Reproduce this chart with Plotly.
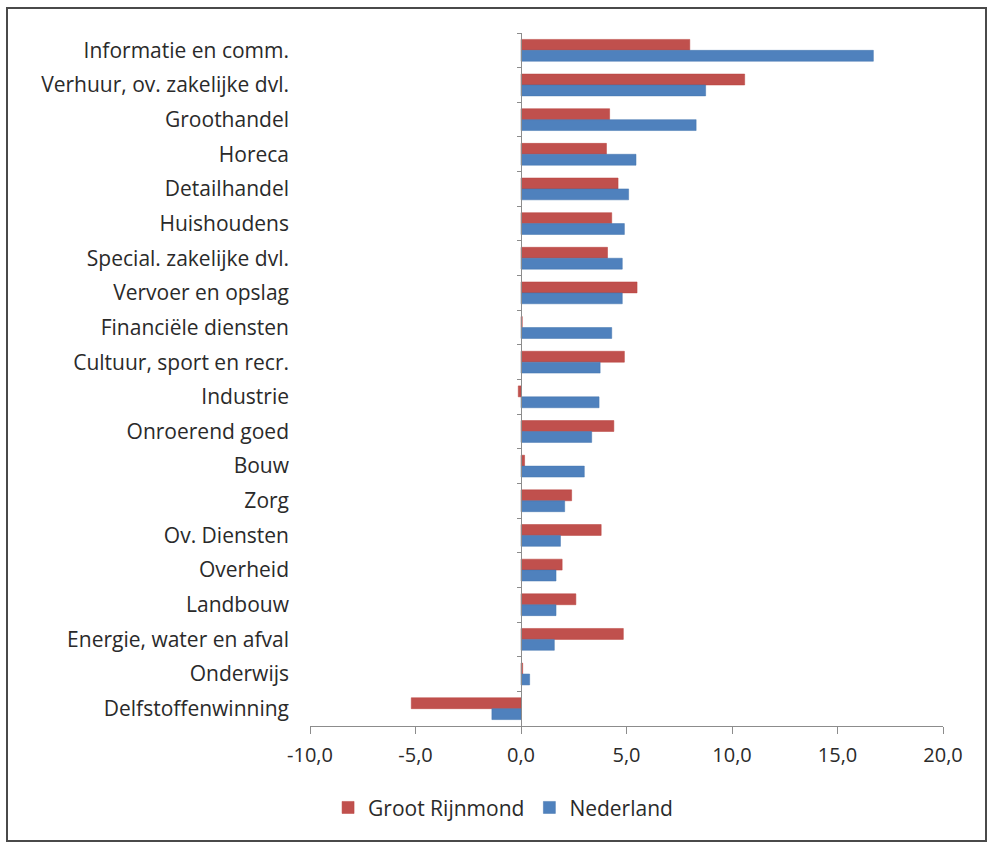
import plotly.graph_objects as go

categories = ["Informatie en comm.", "Verhuur, ov. zakelijke dvl.", "Groothandel", "Horeca",
              "Detailhandel", "Huishoudens", "Special. zakelijke dvl.", "Vervoer en opslag",
              "Financiële diensten", "Cultuur, sport en recr.", "Industrie", "Onroerend goed",
              "Bouw", "Zorg", "Ov. Diensten", "Overheid", "Landbouw", "Energie, water en afval",
              "Onderwijs", "Delfstoffenwinning"]
groot_rijnmond = [8.0, 10.6, 4.2, 4.05, 4.6, 4.3, 4.1, 5.5, 0.06, 4.9, -0.13, 4.4,
                  0.17, 2.4, 3.8, 1.95, 2.6, 4.85, 0.08, -5.2]
nederland = [16.7, 8.75, 8.3, 5.45, 5.1, 4.9, 4.8, 4.8, 4.3, 3.75, 3.7, 3.35,
             3.0, 2.07, 1.87, 1.66, 1.66, 1.58, 0.41, -1.38]
x_ticks = [-10, -5, 0, 5, 10, 15, 20]
x_tick_labels = ["-10,0", "-5,0", "0,0", "5,0", "10,0", "15,0", "20,0"]

FONT = "Open Sans"
TXT = "#2A2A2A"
fig = go.Figure()
fig.add_trace(go.Bar(y=categories, x=groot_rijnmond, orientation="h", name="Groot Rijnmond",
                     marker=dict(color="#C0504D", line=dict(color="#B8403C", width=0.5))))
fig.add_trace(go.Bar(y=categories, x=nederland, orientation="h", name="Nederland",
                     marker=dict(color="#4F81BD", line=dict(color="#4274AE", width=0.5))))

n = len(categories)
fig.update_layout(
    width=989, height=843,
    margin=dict(l=310, r=46, t=33, b=117),
    paper_bgcolor="white", plot_bgcolor="white",
    barmode="group", bargap=0.37, bargroupgap=0.0,
    font=dict(family=FONT, size=21, color=TXT),
    xaxis=dict(range=[-10, 20], tickvals=x_ticks, ticktext=x_tick_labels,
               showgrid=False, zeroline=False, showline=True, linecolor="#8C8C8C", linewidth=1,
               ticks="outside", ticklen=7, tickcolor="#8C8C8C", ticklabelstandoff=4,
               tickfont=dict(family=FONT, size=20, color=TXT)),
    yaxis=dict(categoryorder="array", categoryarray=categories, autorange="reversed",
               showgrid=False, zeroline=False, showline=False, ticks="",
               ticklabelstandoff=20,
               tickfont=dict(family=FONT, size=21, color=TXT)),
    yaxis2=dict(overlaying="y", anchor="free", position=1/3, side="left",
                range=[n - 0.5, -0.5], tickvals=[i - 0.5 for i in range(n + 1)],
                showticklabels=False, showgrid=False, zeroline=False,
                showline=True, linecolor="#8C8C8C", linewidth=1,
                ticks="outside", ticklen=4, tickcolor="#8C8C8C"),
    legend=dict(orientation="h", x=0.305, xanchor="center", y=-0.118, yanchor="middle",
                font=dict(family=FONT, size=21, color=TXT), itemwidth=30,
                traceorder="normal"),
    showlegend=True,
)
fig.add_trace(go.Scatter(x=[None], y=[None], yaxis="y2", showlegend=False, hoverinfo="skip"))

fig.add_shape(type="rect", xref="paper", yref="paper",
              x0=(7 - 310) / 633, x1=(986 - 310) / 633,
              y0=(726 - 841) / 693, y1=(726 - 8) / 693,
              line=dict(color="#4A4A4A", width=2), fillcolor="rgba(0,0,0,0)", layer="below")

fig.write_html("out.html")
